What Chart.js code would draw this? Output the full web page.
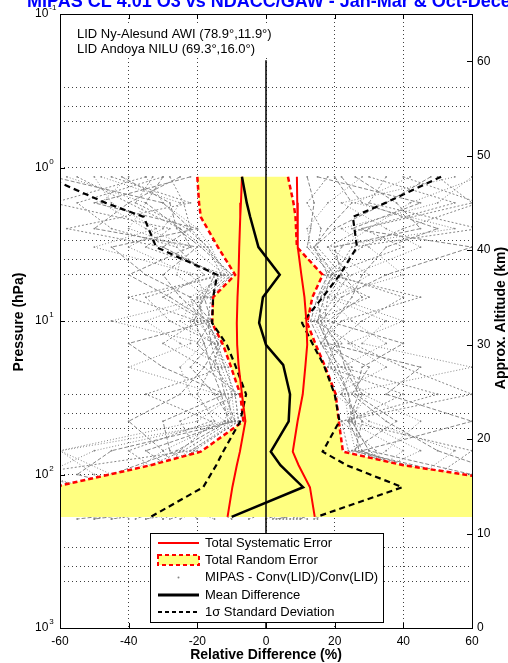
<!DOCTYPE html>
<html>
<head>
<meta charset="utf-8">
<script src="https://cdn.jsdelivr.net/npm/chart.js@4.4.0/dist/chart.umd.min.js"></script>
<style>
  html, body { margin: 0; padding: 0; background: #fff; }
  #wrap { position: relative; width: 508px; height: 663px; }
</style>
</head>
<body>
<div id="wrap"><canvas id="c" width="508" height="663"></canvas></div>
<script>
// pressure levels (hPa) of the mean comparison
const pLevels = [1.15, 1.7, 2.1, 3.3, 5.0, 7.0, 10.3, 14.3, 19.3, 30, 45, 71, 87, 121, 189];
const meanDiff = [-7, -5.6, -4.6, -2.2, 4, -0.9, -2, 0, 5, 7, 6.6, 1.4, 4.2, 10.8, -10];
const sysLo = [-7, -7.3, -7.5, -7.8, -8, -8.3, -8.5, -8.4, -8, -7, -6, -7.6, -8.5, -9.8, -11.2];
const sysHi = [9, 9.1, 9.2, 9.3, 10.3, 11.2, 11.8, 12, 11.5, 10.7, 9.2, 7.8, 9.5, 12.8, 14.2];
const randLo = [-20, -19.5, -19, -14, -9, -15.4, -15.7, -12.5, -10.4, -7.5, -6.6, -19, -33.6, -62, -101];
const randHi = [6.4, 8, 8.6, 9, 16.5, 13.5, 12, 14.5, 17, 20.3, 21.2, 22.4, 40, 82, 140];
const sdLo = [-64, -46.7, -35.6, -32, -14.2, -15.4, -15.7, -11.4, -9, -5.8, -7.5, -12.5, -14.5, -18.3, -33.6];
const sdHi = [51, 34.8, 25.3, 26.5, 21.5, 16.5, 10.5, 13.7, 16.8, 20, 21.4, 16.5, 23.5, 39.7, 14.7];

// individual MIPAS - lidar differences (%)
const gLevels = [1.15, 1.7, 2.5, 3.3, 5, 7, 10, 14, 20, 30, 45, 70, 100, 150, 195];
const greyProfiles = [
  [-55, -40, -25, -18, -10, -16, -17, -14, -12, -9, -8, -22, -70, -30, -50],
  [48, 35, 20, 14, 20, 15, 13, 16, 20, 24, 25, 30, 60, 20, 10],
  [-40, -48, -35, -22, -12, -20, -25, -15, -11, -10, -12, -30, -40, -15, -35],
  [30, 55, 28, 18, 24, 20, 15, 18, 25, 22, 28, 26, 45, 5, 0],
  [-62, -30, -22, -30, -15, -18, -16, -20, -14, -12, -9, -45, -55, -25, -20],
  [62, 42, 30, 22, 18, 16, 18, 22, 18, 30, 24, 40, 30, 10, 15],
  [-30, -55, -45, -26, -18, -30, -18, -13, -16, -20, -15, -25, -30, -5, -45],
  [22, 28, 50, 35, 28, 25, 20, 16, 30, 25, 35, 50, 70, 15, 5],
  [-48, -25, -30, -40, -22, -16, -35, -25, -12, -9, -20, -60, -45, -35, -30],
  [40, 62, 40, 28, 17, 30, 14, 25, 40, 60, 22, 24, 35, 25, 8],
  [-25, -40, -50, -20, -30, -25, -17, -16, -22, -15, -10, -35, -25, -10, -55],
  [55, 22, 35, 45, 25, 18, 25, 35, 22, 28, 45, 35, 25, 0, 12],
  [-35, -62, -28, -35, -12, -40, -20, -30, -18, -8, -25, -20, -35, -20, -10],
  [15, 45, 25, 60, 35, 22, 16, 18, 45, 35, 60, 28, 40, 30, 3],
  [-58, -35, -40, -24, -26, -17, -45, -18, -25, -22, -12, -50, -65, -40, -40],
  [35, 30, 62, 25, 20, 40, 28, 20, 18, 40, 24, 60, 50, 10, -5],
  [-22, -50, -20, -45, -35, -22, -16, -40, -30, -12, -30, -28, -20, -15, -25],
  [60, 50, 22, 30, 40, 18, 35, 28, 60, 22, 28, 45, 30, 20, 10],
  [-45, -22, -58, -30, -14, -35, -28, -15, -12, -35, -16, -40, -30, -5, -35],
  [26, 38, 45, 20, 22, 28, 18, 40, 28, 26, 38, 25, 55, 15, 0],
  [-50, -45, -32, -50, -20, -18, -22, -22, -40, -14, -9, -60, -50, -30, -15],
  [50, 60, 28, 40, 18, 45, 22, 16, 22, 50, 22, 32, 35, 25, 14],
  [-30, -35, -25, -22, -40, -28, -17, -14, -18, -25, -40, -30, -25, -10, -50],
  [42, 26, 55, 18, 30, 20, 40, 24, 35, 20, 30, 55, 45, 5, 6],
  [-28, -24, -22, -17, -11, -19, -19, -16, -14, -11, -10, -24, -40, -20, -30],
  [12, 14, 13, 12, 19, 17, 15, 18, 21, 24, 26, 27, 50, 10, 2],
  [-35, -30, -20, -16, -12, -22, -20, -15, -13, -10, -9, -22, -35, -15, -45],
  [18, 12, 16, 15, 22, 18, 17, 20, 24, 28, 25, 30, 40, 20, 7],
  [-42, -28, -26, -19, -10, -18, -21, -18, -16, -13, -11, -26, -45, -25, -38],
  [28, 18, 12, 13, 20, 16, 14, 17, 19, 23, 24, 26, 35, 15, 9],
  [-33, -38, -23, -17, -13, -20, -18, -14, -15, -9, -8, -21, -30, -10, -28],
  [20, 25, 18, 14, 18, 15, 16, 21, 23, 27, 24, 28, 45, 12, 4]
];

const xTicks = [-60, -40, -20, 0, 20, 40, 60];
const pGrid = [0.3, 0.4, 0.5, 1, 3, 4, 5, 10, 30, 40, 50, 100, 300, 400, 500];
const pDecades = [-1, 0, 1, 2, 3];
const altTicks = [0, 10, 20, 30, 40, 50, 60];
const zeroLine = [0.2, 1000];

const titleText = 'MIPAS CL 4.01 O3 vs NDACC/GAW - Jan-Mar & Oct-December';
const stations = ['LID Ny-Alesund AWI (78.9\u00b0,11.9\u00b0)', 'LID Andoya NILU (69.3\u00b0,16.0\u00b0)'];
const legendLabels = ['Total Systematic Error', 'Total Random Error', 'MIPAS - Conv(LID)/Conv(LID)', 'Mean Difference', '1\u03c3 Standard Deviation'];

const F = "'Liberation Sans', Arial, Helvetica, sans-serif";
const YELLOW = '#ffff80';
const GREY = '#858585';

const toXY = (xs, ps) => xs.map((v, i) => ({ x: v, y: ps[i] }));
const line = (data, color, width, dash, order) => ({
  data: data, borderColor: color, borderWidth: width, borderDash: dash,
  order: order, showLine: true, pointRadius: 0, fill: false
});

const datasets = [];
datasets.push(line(zeroLine.map(p => ({ x: 0, y: p })), '#000', 1.5, [], 1));
datasets.push(line(toXY(meanDiff, pLevels), '#000', 2.5, [], 2));
datasets.push(line(toXY(sysLo, pLevels), '#ff0000', 2, [], 3));
datasets.push(line(toXY(sysHi, pLevels), '#ff0000', 2, [], 3));
datasets.push(line(toXY(sdLo, pLevels), '#000', 2.2, [6, 4], 4));
datasets.push(line(toXY(sdHi, pLevels), '#000', 2.2, [6, 4], 4));
datasets.push(line(toXY(randLo, pLevels), '#ff0000', 2.5, [5, 3], 5));
datasets.push(line(toXY(randHi, pLevels), '#ff0000', 2.5, [5, 3], 5));
// yellow random error band
datasets.push({
  data: toXY(randLo, pLevels).concat(toXY(randHi, pLevels).reverse()),
  showLine: true, pointRadius: 0, fill: 'shape', backgroundColor: YELLOW,
  borderColor: 'rgba(0,0,0,0)', borderWidth: 0, order: 6
});
const greyDash = [[2, 2], [4, 2], [1, 2]];
greyProfiles.forEach((g, i) => {
  const ds = line(toXY(g, gLevels), GREY, 1, greyDash[i % 3], 10);
  ds.pointRadius = 0.9;
  ds.pointBackgroundColor = GREY;
  ds.pointBorderWidth = 0;
  datasets.push(ds);
});

const overlay = {
  id: 'overlay',
  afterDraw(chart) {
    const { ctx, chartArea: a, scales } = chart;
    const sx = scales.x, sy = scales.y, sa = scales.alt;
    ctx.save();
    ctx.setLineDash([]);
    ctx.strokeStyle = '#000';
    ctx.lineWidth = 1;
    ctx.strokeRect(a.left + 0.5, a.top + 0.5, a.right - a.left, a.bottom - a.top);

    // inward tick marks
    ctx.beginPath();
    xTicks.slice(1, -1).forEach(v => {
      const px = Math.round(sx.getPixelForValue(v)) + 0.5;
      ctx.moveTo(px, a.bottom); ctx.lineTo(px, a.bottom - 5);
      ctx.moveTo(px, a.top); ctx.lineTo(px, a.top + 5);
    });
    pDecades.slice(1, -1).forEach(e => {
      const py = Math.round(sy.getPixelForValue(Math.pow(10, e))) + 0.5;
      ctx.moveTo(a.left, py); ctx.lineTo(a.left + 5, py);
    });
    altTicks.slice(1).forEach(v => {
      const py = Math.round(sa.getPixelForValue(v)) + 0.5;
      ctx.moveTo(a.right, py); ctx.lineTo(a.right - 5, py);
    });
    ctx.stroke();

    // left pressure labels 10^n
    ctx.fillStyle = '#000';
    ctx.textBaseline = 'middle';
    ctx.textAlign = 'left';
    pDecades.forEach(e => {
      const py = sy.getPixelForValue(Math.pow(10, e));
      ctx.font = '12px ' + F;
      ctx.fillText('10', 35, py);
      const w = ctx.measureText('10').width;
      ctx.font = '8px ' + F;
      ctx.fillText(String(e), 35 + w + 1, py - 6);
    });

    // axis titles
    ctx.font = 'bold 14px ' + F;
    ctx.textAlign = 'center';
    ctx.fillText('Relative Difference (%)', 266, 655);
    ctx.save();
    ctx.translate(19, 322);
    ctx.rotate(-Math.PI / 2);
    ctx.fillText('Pressure (hPa)', 0, 0);
    ctx.restore();
    ctx.save();
    ctx.translate(501, 318);
    ctx.rotate(-Math.PI / 2);
    ctx.fillText('Approx. Altitude (km)', 0, 0);
    ctx.restore();

    // clipped blue title
    ctx.textAlign = 'left';
    ctx.textBaseline = 'alphabetic';
    ctx.fillStyle = '#0000ff';
    ctx.font = 'bold 18px ' + F;
    ctx.fillText(titleText, 27, 7);

    // station annotation
    ctx.fillStyle = '#fff';
    ctx.fillRect(70, 24, 218, 34);
    ctx.fillStyle = '#000';
    ctx.font = '13px ' + F;
    ctx.textBaseline = 'middle';
    ctx.fillText(stations[0], 77, 34);
    ctx.fillText(stations[1], 77, 49);

    // legend
    const lx = 150, ly = 533, lw = 233, lh = 89;
    ctx.fillStyle = '#fff';
    ctx.fillRect(lx, ly, lw, lh);
    ctx.strokeStyle = '#000';
    ctx.lineWidth = 1;
    ctx.strokeRect(lx + 0.5, ly + 0.5, lw, lh);
    const rows = [543, 560, 577.5, 595, 612];
    const x0 = 158, x1 = 199;
    const seg = (y, color, width, dash) => {
      ctx.beginPath();
      ctx.setLineDash(dash);
      ctx.strokeStyle = color;
      ctx.lineWidth = width;
      ctx.moveTo(x0, y); ctx.lineTo(x1, y);
      ctx.stroke();
      ctx.setLineDash([]);
    };
    seg(rows[0], '#ff0000', 2, []);
    ctx.fillStyle = YELLOW;
    ctx.fillRect(x0, rows[1] - 5, x1 - x0, 10);
    ctx.setLineDash([4, 3]);
    ctx.strokeStyle = '#ff0000';
    ctx.lineWidth = 2;
    ctx.strokeRect(x0, rows[1] - 5, x1 - x0, 10);
    ctx.setLineDash([]);
    ctx.fillStyle = GREY;
    ctx.beginPath();
    ctx.arc((x0 + x1) / 2, rows[2], 1, 0, Math.PI * 2);
    ctx.fill();
    seg(rows[3], '#000', 3, []);
    seg(rows[4], '#000', 2, [4, 3]);
    ctx.fillStyle = '#000';
    ctx.font = '13px ' + F;
    ctx.textAlign = 'left';
    legendLabels.forEach((t, i) => ctx.fillText(t, 205, rows[i]));
    ctx.restore();
  }
};

const gridOpts = { color: 'rgba(0,0,0,0.75)', lineWidth: 1, drawTicks: false };

new Chart(document.getElementById('c'), {
  type: 'scatter',
  data: { datasets: datasets },
  options: {
    responsive: false,
    devicePixelRatio: 1,
    animation: false,
    layout: { padding: { top: 14, left: 0, right: 0, bottom: 0 } },
    plugins: { legend: { display: false }, tooltip: { enabled: false }, title: { display: false } },
    scales: {
      x: {
        type: 'linear', min: -60, max: 60,
        afterBuildTicks: s => { s.ticks = xTicks.map(v => ({ value: v })); },
        grid: gridOpts,
        border: { display: false, dash: [1, 3] },
        ticks: { color: '#000', font: { family: F, size: 12 }, padding: 6, maxRotation: 0, autoSkip: false },
        afterFit: s => { s.height = 35; }
      },
      y: {
        type: 'logarithmic', min: 0.1, max: 1000, reverse: true, position: 'left',
        afterBuildTicks: s => { s.ticks = pGrid.map(v => ({ value: v })); },
        grid: gridOpts,
        border: { display: false, dash: [1, 3] },
        ticks: { display: false },
        afterFit: s => { s.width = 60; }
      },
      alt: {
        type: 'linear', position: 'right', min: 0, max: 65,
        afterBuildTicks: s => { s.ticks = altTicks.map(v => ({ value: v })); },
        grid: { display: false, drawTicks: false, tickLength: 0 },
        border: { display: false },
        ticks: { color: '#000', font: { family: F, size: 12 }, padding: 5, autoSkip: false },
        afterFit: s => { s.width = 36; }
      }
    }
  },
  plugins: [overlay]
});
</script>
</body>
</html>
